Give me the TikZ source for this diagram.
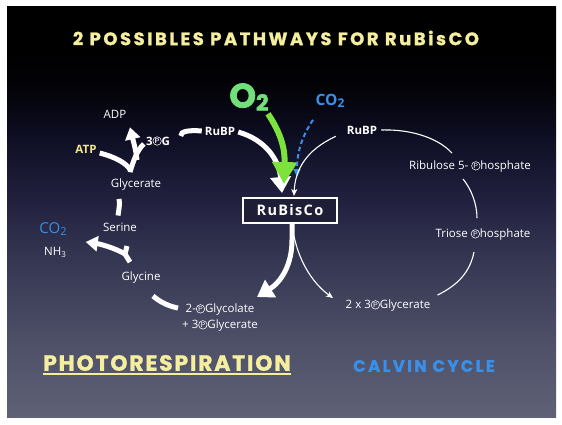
\documentclass[tikz,border=0pt]{standalone}
\usepackage{fontspec}
\setmainfont{Open Sans}
\newfontfamily\titlefont{Poppins}[LetterSpace=14,BoldFeatures={FakeBold=1.2}]
\newfontfamily\photofont{Poppins}[LetterSpace=8,BoldFeatures={FakeBold=1.2}]
\newfontfamily\calvinfont{Poppins}[LetterSpace=14,BoldFeatures={FakeBold=1.2}]
\newfontfamily\oxyfont{Poppins}[BoldFeatures={FakeBold=2}]
\newfontfamily\boxfont{Open Sans}[LetterSpace=9]
\usetikzlibrary{arrows.meta}
\newcommand\circP{\tikz[baseline={([yshift=0.4pt]cp.south)},x=1pt,y=1pt]\node[draw=white,circle,line width=0.55pt,inner sep=0pt,minimum size=8.5pt,text=white,font=\fontsize{7}{7}\selectfont\sffamily] (cp) {P};}
\definecolor{bgA}{HTML}{5F6176}
\definecolor{bgB}{HTML}{4E5068}
\definecolor{bgC}{HTML}{383A55}
\definecolor{bgD}{HTML}{222240}
\definecolor{bgE}{HTML}{0E0E24}
\definecolor{bgF}{HTML}{030308}
\definecolor{titleyel}{HTML}{F5EE9E}
\definecolor{atpyel}{HTML}{F2E88A}
\definecolor{bluec}{HTML}{3A8FE8}
\definecolor{greenA}{HTML}{7DE33C}
\definecolor{greenT}{HTML}{72E07A}
\definecolor{boxfill}{HTML}{1E1E36}
\pgfdeclareverticalshading{slidebg}{100bp}{color(0bp)=(bgA); color(25bp)=(bgA); color(34bp)=(bgB); color(43bp)=(bgC); color(51bp)=(bgD); color(59bp)=(bgE); color(65bp)=(bgF); color(70bp)=(black); color(100bp)=(black)}
\begin{document}
\begin{tikzpicture}[x=1pt,y=-1pt,
  lab/.style={text=white,font=\fontsize{11.5}{13}\selectfont,inner sep=0pt},
  blab/.style={text=white,font=\bfseries\fontsize{11.5}{13}\selectfont,inner sep=0pt},
  thickw/.style={white,line width=5pt},
  bigarrow/.style={white,line width=5pt,-{Triangle[length=16pt,width=20pt]}},
  medarrow/.style={white,line width=5pt,-{Triangle[length=12pt,width=15pt]}},
  thinarrow/.style={white,line width=1.1pt,-{Stealth[length=7pt,width=6pt,inset=2pt]}},
  thinline/.style={white,line width=1.1pt}]
\useasboundingbox (0,0) rectangle (562,424);
\fill[white] (0,0) rectangle (562,424);
\shade[shading=slidebg] (7,6) rectangle (556,417);

% titles
\node[inner sep=0pt,text=titleyel,font=\titlefont\bfseries\fontsize{18}{18}\selectfont] (title) at (276,38) {2 POSSIBLES PATHWAYS FOR RuBisCO};
\node[inner sep=0pt,text=titleyel,font=\photofont\bfseries\fontsize{22}{22}\selectfont] (photo) at (167,363) {PHOTORESPIRATION};
\draw[titleyel,line width=2pt] ([yshift=-3pt]photo.south west) -- ([yshift=-3pt]photo.south east);
\node[inner sep=0pt,text=bluec,font=\calvinfont\bfseries\fontsize{16.5}{16.5}\selectfont] (calvin) at (424,366) {CALVIN CYCLE};

% central
\node[inner sep=0pt,text=greenT,font=\oxyfont\bfseries\fontsize{34}{34}\selectfont] (o2) at (249,97) {O\raisebox{-3pt}{\fontsize{22}{22}\selectfont 2}};
\node[inner sep=0pt,text=bluec,font=\bfseries\fontsize{15.5}{15.5}\selectfont] (co2t) at (330,101) {CO\raisebox{-2pt}{\fontsize{12}{12}\selectfont 2}};
\node[blab] (rubpL) at (220,131) {RuBP};
\node[blab] (rubpR) at (362,130) {RuBP};
\node[draw=white,line width=1.2pt,fill=boxfill,text=white,minimum width=94pt,minimum height=25pt,inner sep=0pt,font=\boxfont\bfseries\fontsize{14.5}{14.5}\selectfont] (rubisco) at (290,210.5) {RuBisCo};

% left cycle labels
\node[lab] (adp) at (115,114) {ADP};
\node[inner sep=0pt,text=atpyel,font=\bfseries\fontsize{11.5}{13}\selectfont] (atp) at (86,149) {ATP};
\node[blab] (pg3) at (158,141) {3\circP G};
\node[lab] (glycerate) at (136,185) {Glycerate};
\node[lab] (serine) at (120,227) {Serine};
\node[inner sep=0pt,text=bluec,font=\fontsize{15}{15}\selectfont] (co2l) at (53,229) {CO\raisebox{-2pt}{\fontsize{11}{11}\selectfont 2}};
\node[lab] (nh3) at (55,252) {NH\raisebox{-2pt}{\fontsize{8}{8}\selectfont 3}};
\node[lab] (glycine) at (141,278) {Glycine};
\node[lab,align=center] (glycolate) at (220,318) {2-\circP Glycolate\\[3pt]+ 3\circP Glycerate};

% right labels
\node[lab] (ribulose) at (470,167) {Ribulose 5- \circP hosphate};
\node[lab] (triose) at (483,235) {Triose \circP hosphate};
\node[lab] (gly2x) at (388,306) {2 x 3\circP Glycerate};

% arrows into RuBisCo
\coordinate (tipW) at (282,193);
\coordinate (tipG) at (284,184);
\coordinate (tipB) at (297,177);
\coordinate (tipT) at (294,196);
\draw[bigarrow] ([xshift=3pt,yshift=-1pt]rubpL.east) .. controls (266,140) and (279,160) .. (tipW);
\draw[greenA,line width=6pt,-{Triangle[length=22pt,width=24pt]}] ([xshift=19pt,yshift=-3pt]o2.south) .. controls (282,135) and (285,150) .. (tipG);
\draw[bluec,line width=2pt,dash pattern=on 4.5pt off 3pt,-{Triangle[length=8pt,width=7pt]}] ([xshift=-17pt,yshift=-12pt]co2t.south) .. controls (303,135) and (297,150) .. (tipB);
\draw[thinarrow] ([xshift=-11pt,yshift=-2pt]rubpR.south west) .. controls (306,150) and (295,170) .. (tipT);

% arrows out of RuBisCo
\coordinate (tipL) at (257,297);
\coordinate (tipR) at (333,298);
\draw[bigarrow] ([xshift=2pt]rubisco.south) -- (292,240) .. controls (292,265) and (281,282) .. (tipL);
\draw[thinarrow] (294,236) .. controls (300,265) and (315,285) .. (tipR);

% calvin cycle
\draw[thinline] ([xshift=4pt]rubpR.east) .. controls (415,129) and (440,140) .. ([xshift=-18pt,yshift=8pt]ribulose.north);
\draw[thinline] ([xshift=-7pt,yshift=-6pt]ribulose.south) .. controls (472,190) and (477,205) .. ([xshift=-6pt,yshift=11pt]triose.north);
\draw[thinline] ([xshift=-9pt,yshift=-11pt]triose.south) .. controls (470,272) and (458,285) .. ([xshift=7pt,yshift=5pt]gly2x.north east);

% photorespiration cycle
\draw[thickw] ([xshift=-24pt,yshift=-5pt]rubpL.west) .. controls (180,131) and (190,130) .. ([xshift=-3pt]rubpL.west);
\draw[thickw] ([xshift=3pt,yshift=-4pt]atp.east) .. controls (115,157) and (127,163) .. (131,171);
\draw[thickw] ([xshift=-6pt,yshift=7pt]glycerate.north) .. controls (133,162) and (137,150) .. ([xshift=-2pt,yshift=-3pt]pg3.west);
\draw[medarrow] (137,160) .. controls (136,150) and (133,140) .. ([xshift=15pt,yshift=-9pt]adp.south);
\draw[thickw] ([xshift=-17pt,yshift=-8pt]glycerate.south) .. controls (120,203) and (119,209) .. ([xshift=-2pt,yshift=7pt]serine.north);
\draw[thickw] ([xshift=-11pt,yshift=10pt]glycine.north) -- (125,254) -- (127,246);
\draw[medarrow] (125,254) .. controls (115,248) and (100,244) .. ([xshift=19pt,yshift=-13pt]co2l.east);
\draw[thickw] ([xshift=12pt,yshift=-12pt]glycine.south) .. controls (160,302) and (168,306) .. ([xshift=-4pt,yshift=-4pt]glycolate.north west);
\end{tikzpicture}
\end{document}
